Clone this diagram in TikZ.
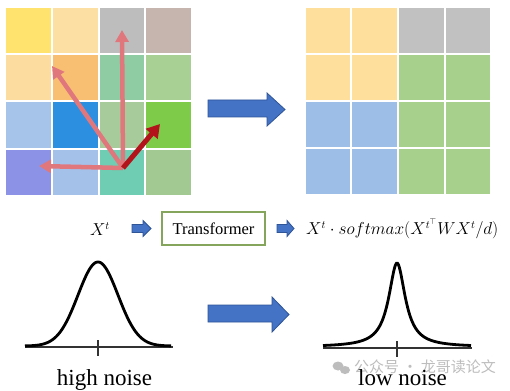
\documentclass[tikz,border=0pt]{standalone}
\usepackage{fontspec}
\setmainfont{Liberation Serif}
\newfontfamily\cjk{Noto Sans CJK SC}
\usetikzlibrary{arrows.meta}
\definecolor{Laa}{HTML}{FFE36E}\definecolor{Lab}{HTML}{FCDFA2}\definecolor{Lac}{HTML}{BEBDBD}\definecolor{Lad}{HTML}{C6B4AF}
\definecolor{Lba}{HTML}{FDDCA0}\definecolor{Lbb}{HTML}{F8BF73}\definecolor{Lbc}{HTML}{8FCBA3}\definecolor{Lbd}{HTML}{A8D095}
\definecolor{Lca}{HTML}{A6C3EA}\definecolor{Lcb}{HTML}{2D8FE0}\definecolor{Lcc}{HTML}{A8CB9B}\definecolor{Lcd}{HTML}{7DCB48}
\definecolor{Lda}{HTML}{8C93E6}\definecolor{Ldb}{HTML}{A4C1EA}\definecolor{Ldc}{HTML}{6ECDB2}\definecolor{Ldd}{HTML}{A3C993}
\definecolor{Ry}{HTML}{FEDF9B}\definecolor{Rg}{HTML}{C1C1C1}\definecolor{Rb}{HTML}{9DBFE7}\definecolor{Rn}{HTML}{A6D08C}
\definecolor{vecpink}{HTML}{E0777D}\definecolor{vecred}{HTML}{B3141B}
\definecolor{blkfill}{HTML}{4472C4}\definecolor{blkline}{HTML}{2F5597}
\definecolor{boxgreen}{HTML}{86A55C}\definecolor{wmgray}{HTML}{BDBDBD}
\begin{document}
\begin{tikzpicture}[x=1pt,y=-1pt,
  vec/.style={line width=4.5pt,draw=vecpink,-{Triangle[length=12pt,width=13pt]}},
  vecdark/.style={line width=5pt,draw=vecred,-{Triangle[length=13pt,width=15pt]}},
  blockarrow/.style={fill=blkfill,draw=blkline,line width=0.8pt},
  curve/.style={line width=2.8pt,black},
  axis/.style={line width=2pt,draw=black!80},
  tick/.style={line width=1.5pt,draw=black!80},
  label/.style={font=\fontsize{23}{26}\selectfont,inner sep=0pt,anchor=base},
  mathlbl/.style={font=\fontsize{16}{19}\selectfont,inner sep=0pt}]
\useasboundingbox (0,0) rectangle (510,390);
\fill[white] (0,0) rectangle (510,390);
% left grid
\foreach \xa/\xb/\ya/\yb/\col in {
  5/52/7/54/Laa, 52/99/7/54/Lab, 99/145/7/54/Lac, 145/192/7/54/Lad,
  5/52/54/101/Lba, 52/99/54/101/Lbb, 99/145/54/101/Lbc, 145/192/54/101/Lbd,
  5/52/101/149/Lca, 52/99/101/149/Lcb, 99/145/101/149/Lcc, 145/192/101/149/Lcd,
  5/52/149/196/Lda, 52/99/149/196/Ldb, 99/145/149/196/Ldc, 145/192/149/196/Ldd}
  \fill[\col] (\xa+0.8,\ya+0.8) rectangle (\xb-0.8,\yb-0.8);
% right grid
\foreach \xa/\xb/\ya/\yb/\col in {
  305/351/7/54/Ry, 351/398/7/54/Ry, 398/445/7/54/Rg, 445/491/7/54/Rg,
  305/351/54/101/Ry, 351/398/54/101/Ry, 398/445/54/101/Rn, 445/491/54/101/Rn,
  305/351/101/148/Rb, 351/398/101/148/Rb, 398/445/101/148/Rn, 445/491/101/148/Rn,
  305/351/148/195/Rb, 351/398/148/195/Rb, 398/445/148/195/Rn, 445/491/148/195/Rn}
  \fill[\col] (\xa+0.8,\ya+0.8) rectangle (\xb-0.8,\yb-0.8);
% vectors
\coordinate (O) at (123,168);
\coordinate (vup) at (122,30);
\coordinate (vul) at (52,66);
\coordinate (vl) at (39,166);
\coordinate (vr) at (160,124);
\draw[vec] (O) -- (vup);
\draw[vec] (O) -- (vul);
\draw[vec] (O) -- (vl);
\draw[vecdark] (O) -- (vr);
% big block arrows
\path[blockarrow] (208,100) -- (267,100) -- (267,93) -- (285,109.5) -- (267,126) -- (267,117) -- (208,117) -- cycle;
\path[blockarrow] (208,305) -- (272,305) -- (272,297) -- (289,314.5) -- (272,332) -- (272,322) -- (208,322) -- cycle;
% middle row
\node[mathlbl] (xt) at (100,229) {$X^t$};
\path[blockarrow] (132,224.5) -- (143,224.5) -- (143,220.5) -- (151,228.5) -- (143,236.5) -- (143,232.5) -- (132,232.5) -- cycle;
\node[draw=boxgreen,line width=2.5pt,minimum width=103pt,minimum height=33pt,inner sep=0pt,
  font=\fontsize{16.5}{19}\selectfont] (tf) at (213.5,228.5) {Transformer};
\path[blockarrow] (277,224.5) -- (287,224.5) -- (287,220.5) -- (294,228.5) -- (287,236.5) -- (287,232.5) -- (277,232.5) -- cycle;
\node[mathlbl,anchor=west] (out) at (306,229) {$X^t\cdot softmax(X^{t^{\top}}WX^t/d)$};
% left distribution
\draw[axis] (25,347) -- (173,347);
\draw[tick] (98,340) -- (98,356);
\draw[curve] plot[domain=25:171,samples=120,smooth] (\x,{346-84*exp(-((\x-98)/20)^2/2)});
\node[label] (hn) at (104.5,385.5) {high noise};
% right distribution
\draw[axis] (323,348) -- (472,348);
\draw[tick] (397,341) -- (397,357);
\draw[curve] plot[domain=323:471,samples=160,smooth] (\x,{347-84/(1+((\x-397)/10)^2)});
% watermark
\fill[wmgray] (338,366) ellipse (5.5pt and 4.5pt);
\fill[wmgray] (345,370) ellipse (5pt and 4pt);
\node[font=\cjk\fontsize{15}{17}\selectfont,text=wmgray,anchor=west,inner sep=0pt] (wm) at (354,367) {公众号 · 龙哥读论文};
\node[label] (ln) at (402.5,385.5) {low noise};
\end{tikzpicture}
\end{document}
